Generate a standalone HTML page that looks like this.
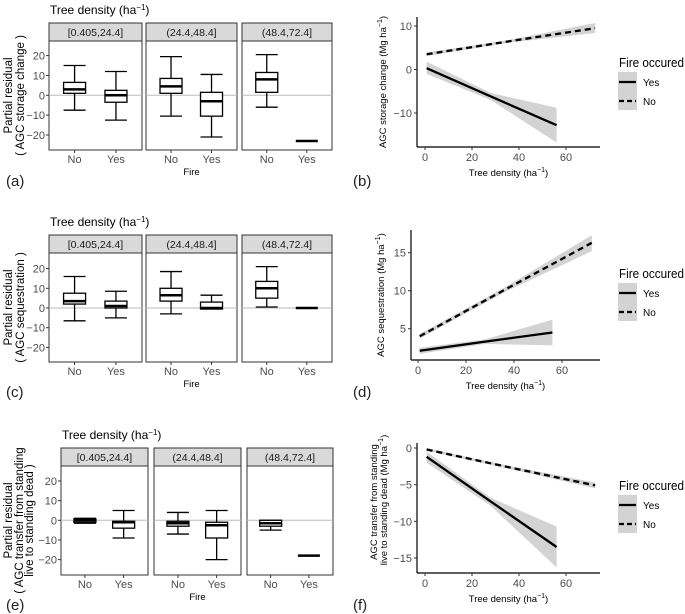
<!DOCTYPE html>
<html><head><meta charset="utf-8">
<style>
html,body{margin:0;padding:0;background:#fff;}
svg{display:block;font-family:"Liberation Sans",Arial,sans-serif;}
</style></head>
<body>
<svg id="fig" width="685" height="614" viewBox="0 0 685 614" xmlns="http://www.w3.org/2000/svg"></svg>
<script>
// ---------- Boxplot data (order: P1 No, P1 Yes, P2 No, P2 Yes, P3 No, P3 Yes) ----------
const binLabels = ["[0.405,24.4]", "(24.4,48.4]", "(48.4,72.4]"];
const fireLevels = ["No", "Yes"];
const yTicksBox = [20, 10, 0, -10, -20];

const aLo  = [-7.5, -12.5, -10.5, -21, -6, -23];
const aQ1  = [1, -3.5, 1, -10.5, 1.5, -23];
const aMed = [3, 0, 4.5, -3, 8, -23];
const aQ3  = [6.5, 2.5, 8.5, 1.5, 11.5, -23];
const aHi  = [15, 12, 19.5, 10.5, 20.5, -23];

const cLo  = [-6.5, -5, -3, -0.5, 0.5, 0];
const cQ1  = [2, 0, 3.5, -0.5, 5, 0];
const cMed = [3.5, 1, 6.5, 0, 10, 0];
const cQ3  = [7.5, 3.5, 10, 3, 13.5, 0];
const cHi  = [16, 8.5, 18.5, 6.5, 21, 0];

const eLo  = [-1.5, -9, -7, -20, -5, -18];
const eQ1  = [-1, -4, -3, -9, -3, -18];
const eMed = [0, -1, -1.5, -2.5, -1.5, -18];
const eQ3  = [0.7, -0.5, -0.5, -1, 0, -18];
const eHi  = [1, 5, 4, 5, 0, -18];

// ---------- Regression line data ----------
const xTicksLine = [0, 20, 40, 60];
const yesX = [0.7, 28, 56];
const noX  = [0.7, 36, 72.4];

const bYes = [0.3, -6.2, -12.8], bYesLo = [-1, -7, -16.8], bYesHi = [1.8, -5.4, -8.8];
const bNo  = [3.5, 6.5, 9.5],    bNoLo  = [3.1, 6.2, 8.4],   bNoHi  = [3.9, 6.8, 10.7];
const bTicks = [10, 0, -10];

const dYes = [2.1, 3.3, 4.5], dYesLo = [1.7, 3.0, 2.8], dYesHi = [2.5, 3.6, 6.2];
const dNo  = [4.0, 10.1, 16.3], dNoLo = [3.7, 9.8, 15.2], dNoHi = [4.3, 10.4, 17.3];
const dTicks = [15, 10, 5];

const fYes = [-1.2, -7.3, -13.5], fYesLo = [-2.0, -7.9, -16.3], fYesHi = [-0.5, -6.8, -10.7];
const fNo  = [-0.2, -2.65, -5.1], fNoLo = [-0.4, -2.85, -5.5], fNoHi = [0, -2.45, -4.7];
const fTicks = [0, -5, -10, -15];

const NS = "http://www.w3.org/2000/svg";
const svg = document.getElementById("fig");
function mk(tag, attrs, parent, text) {
  const e = document.createElementNS(NS, tag);
  for (const k in attrs) e.setAttribute(k, attrs[k]);
  if (text !== undefined) e.textContent = text;
  (parent || svg).appendChild(e);
  return e;
}
function tx(x, y, s, size, opts) {
  const o = Object.assign({x: x, y: y, "font-size": size, fill: "#000"}, opts || {});
  return mk("text", o, svg, s);
}
function densityTitle(x, y) {
  const t = mk("text", {x: x, y: y, "font-size": 12, fill: "#000"});
  
  
  mk("tspan", {}, t, "Tree density (ha");
  mk("tspan", {dy: -4, "font-size": 8}, t, "\u22121");
  mk("tspan", {dy: 4}, t, ")");
}

// ---------- Boxplot rows ----------
function boxRow(cfg) {
  const {panels, stripTop, stripBot, plotBot, zeroY, pxPerUnit, lo, q1, med, q3, hi, tickRight, showFire, label, labelY, ylabLines, ylabX, titleX} = cfg;
  const ys = v => zeroY - v * pxPerUnit;
  densityTitle(titleX, stripTop - 9);
  yTicksBox.forEach(v => {
    const t = tx(tickRight - 4, ys(v) + 4, (v < 0 ? "\u2212" + (-v) : String(v)), 11, {"text-anchor": "end", fill: "#4d4d4d"});
    
    
    mk("line", {x1: tickRight - 3, x2: tickRight, y1: ys(v), y2: ys(v), stroke: "#333", "stroke-width": 1});
  });
  panels.forEach((p, i) => {
    const [x0, x1] = p;
    const strip = mk("rect", {x: x0, y: stripTop, width: x1 - x0, height: stripBot - stripTop, fill: "#d9d9d9", stroke: "#333", "stroke-width": 1});
    
    
    const st = tx((x0 + x1) / 2, stripTop + 13, binLabels[i], 10.5, {"text-anchor": "middle", fill: "#1a1a1a"});
    
    
    const frame = mk("rect", {x: x0, y: stripBot, width: x1 - x0, height: plotBot - stripBot, fill: "#fff", stroke: "#333", "stroke-width": 1});
    
    
    mk("line", {x1: x0, x2: x1, y1: ys(0), y2: ys(0), stroke: "#bbb", "stroke-width": 1});
    const w = x1 - x0;
    fireLevels.forEach((f, j) => {
      const k = i * 2 + j;
      const cx = x0 + w * (j === 0 ? 0.275 : 0.72);
      const bw = 22;
      const g = mk("g", {});
      
      
      if (hi[k] - lo[k] < 0.01) {
        mk("line", {x1: cx - bw / 2, x2: cx + bw / 2, y1: ys(med[k]), y2: ys(med[k]), stroke: "#000", "stroke-width": 2.5}, g);
      } else {
        mk("line", {x1: cx, x2: cx, y1: ys(hi[k]), y2: ys(q3[k]), stroke: "#000", "stroke-width": 1.3}, g);
        mk("line", {x1: cx, x2: cx, y1: ys(q1[k]), y2: ys(lo[k]), stroke: "#000", "stroke-width": 1.3}, g);
        mk("line", {x1: cx - bw / 2, x2: cx + bw / 2, y1: ys(hi[k]), y2: ys(hi[k]), stroke: "#000", "stroke-width": 1.3}, g);
        mk("line", {x1: cx - bw / 2, x2: cx + bw / 2, y1: ys(lo[k]), y2: ys(lo[k]), stroke: "#000", "stroke-width": 1.3}, g);
        mk("rect", {x: cx - bw / 2, y: ys(q3[k]), width: bw, height: Math.max(ys(q1[k]) - ys(q3[k]), 0.5), fill: "#fff", stroke: "#000", "stroke-width": 1.3}, g);
        mk("line", {x1: cx - bw / 2, x2: cx + bw / 2, y1: ys(med[k]), y2: ys(med[k]), stroke: "#000", "stroke-width": 2.5}, g);
      }
      mk("line", {x1: cx, x2: cx, y1: plotBot, y2: plotBot + 3, stroke: "#333"});
      const xl = tx(cx, plotBot + 13, f, 11, {"text-anchor": "middle", fill: "#4d4d4d"});
      
      
    });
  });
  if (showFire) {
    const ft = tx((panels[1][0] + panels[1][1]) / 2, plotBot + 25, "Fire", 9.5, {"text-anchor": "middle"});
    
    
  }
  const pl = tx(6, labelY, label, 15, {fill: "#222"});
  
  
  const cy = (stripBot + plotBot) / 2;
  ylabLines.forEach((s, i) => {
    const x = ylabX[i];
    const t = tx(x, cy, s, 11.5, {"text-anchor": "middle", transform: "rotate(-90 " + x + " " + cy + ")"});
    
    
  });
}

boxRow({panels: [[49, 142], [146, 237], [242, 332]], stripTop: 23, stripBot: 41, plotBot: 150, zeroY: 95.3, pxPerUnit: 1.985,
  lo: aLo, q1: aQ1, med: aMed, q3: aQ3, hi: aHi, tickRight: 49, showFire: true, label: "(a)", labelY: 186,
  ylabLines: ["Partial residual", "( AGC storage change )"], ylabX: [12, 24], titleX: 50});
boxRow({panels: [[49, 142], [146, 237], [242, 332]], stripTop: 235, stripBot: 253, plotBot: 362, zeroY: 308, pxPerUnit: 1.97,
  lo: cLo, q1: cQ1, med: cMed, q3: cQ3, hi: cHi, tickRight: 49, showFire: true, label: "(c)", labelY: 397,
  ylabLines: ["Partial residual", "( AGC sequestration )"], ylabX: [12, 24], titleX: 50});
boxRow({panels: [[61, 148], [154, 241], [247, 333]], stripTop: 448, stripBot: 466, plotBot: 575, zeroY: 520.3, pxPerUnit: 1.965,
  lo: eLo, q1: eQ1, med: eMed, q3: eQ3, hi: eHi, tickRight: 61, showFire: true, label: "(e)", labelY: 610,
  ylabLines: ["Partial residual", "( AGC transfer from standing", "live to standing dead )"], ylabX: [12, 23, 33], titleX: 62});

// ---------- Line panels ----------
function linePanel(cfg) {
  const {axL, axB, axT, axR, x0px, x60px, yRef, ticks, yes, yesLo, yesHi, no, noLo, noHi, label, labelY, legY} = cfg;
  const xs = v => x0px + v * (x60px - x0px) / 60;
  const ys = v => yRef[1] + (v - yRef[0]) * (yRef[3] - yRef[1]) / (yRef[2] - yRef[0]);
  function band(xArr, lo, hi, name) {
    let d = "M" + xArr.map((x, i) => xs(x) + "," + ys(hi[i])).join(" L");
    d += " L" + xArr.slice().reverse().map((x, i) => xs(x) + "," + ys(lo[lo.length - 1 - i])).join(" L") + " Z";
    const p = mk("path", {d: d, fill: "#d3d3d3"});
    
    
  }
  function line(xArr, yArr, dash, name) {
    const p = mk("polyline", {points: xArr.map((x, i) => xs(x) + "," + ys(yArr[i])).join(" "), fill: "none", stroke: "#000", "stroke-width": 2.3, "stroke-dasharray": dash});
    
    
  }
  band(noX, noLo, noHi, "ci-band-no");
  band(yesX, yesLo, yesHi, "ci-band-yes");
  line(noX, no, "6,4", "line-no-fire");
  line(yesX, yes, "none", "line-fire");
  mk("line", {x1: axL, x2: axL, y1: axT, y2: axB, stroke: "#000", "stroke-width": 1.2});
  mk("line", {x1: axL, x2: axR, y1: axB, y2: axB, stroke: "#000", "stroke-width": 1.2});
  ticks.forEach(v => {
    mk("line", {x1: axL - 3, x2: axL, y1: ys(v), y2: ys(v), stroke: "#333"});
    const t = tx(axL - 5, ys(v) + 4, v < 0 ? "\u2212" + (-v) : String(v), 11, {"text-anchor": "end", fill: "#4d4d4d"});
    
    
  });
  xTicksLine.forEach(v => {
    mk("line", {x1: xs(v), x2: xs(v), y1: axB, y2: axB + 3, stroke: "#333"});
    const t = tx(xs(v), axB + 14, String(v), 11, {"text-anchor": "middle", fill: "#4d4d4d"});
    
    
  });
  const xt = mk("text", {x: (axL + axR) / 2, y: axB + 29, "font-size": 9.5, "text-anchor": "middle"});
  
  
  mk("tspan", {}, xt, "Tree density (ha");
  mk("tspan", {dy: -4, "font-size": 7}, xt, "\u22121");
  mk("tspan", {dy: 4}, xt, ")");
  const pl = tx(353, labelY, label, 15, {fill: "#222"});
  
  
  // legend
  const lg = mk("g", {});
  
  
  mk("text", {x: 619, y: legY, "font-size": 12.5, textLength: 65, lengthAdjust: "spacingAndGlyphs"}, lg, "Fire occured");
  mk("rect", {x: 618, y: legY + 5, width: 19, height: 38, fill: "#d3d3d3"}, lg);
  const e1 = mk("g", {}, lg);
  
  
  mk("line", {x1: 619, x2: 636, y1: legY + 15, y2: legY + 15, stroke: "#000", "stroke-width": 2.3}, e1);
  mk("text", {x: 643, y: legY + 19, "font-size": 10}, e1, "Yes");
  const e2 = mk("g", {}, lg);
  
  
  mk("line", {x1: 619, x2: 636, y1: legY + 34, y2: legY + 34, stroke: "#000", "stroke-width": 2.3, "stroke-dasharray": "5,3"}, e2);
  mk("text", {x: 643, y: legY + 38, "font-size": 10}, e2, "No");
}

linePanel({axL: 417, axB: 147, axT: 17, axR: 600, x0px: 425, x60px: 566, yRef: [10, 26, -10, 113], ticks: bTicks,
  yes: bYes, yesLo: bYesLo, yesHi: bYesHi, no: bNo, noLo: bNoLo, noHi: bNoHi, label: "(b)", labelY: 186, legY: 67});
linePanel({axL: 411, axB: 360, axT: 230, axR: 600, x0px: 418, x60px: 562, yRef: [15, 252.7, 5, 328.7], ticks: dTicks,
  yes: dYes, yesLo: dYesLo, yesHi: dYesHi, no: dNo, noLo: dNoLo, noHi: dNoHi, label: "(d)", labelY: 397, legY: 278});
linePanel({axL: 417, axB: 573, axT: 443, axR: 600, x0px: 425, x60px: 566, yRef: [0, 448, -15, 558], ticks: fTicks,
  yes: fYes, yesLo: fYesLo, yesHi: fYesHi, no: fNo, noLo: fNoLo, noHi: fNoHi, label: "(f)", labelY: 610, legY: 490});

// right y titles
function rotText(x, y, parts, name) {
  const t = mk("text", {x: x, y: y, "font-size": 9.5, "text-anchor": "middle", transform: "rotate(-90 " + x + " " + y + ")"});
  
  
  parts.forEach(p => mk("tspan", p[1] || {}, t, p[0]));
}
rotText(386, 82, [["AGC  storage change (Mg ha"], ["\u22121", {dy: -4, "font-size": 7}], [")", {dy: 4}]], "y-axis-title");
rotText(384, 295, [["AGC  sequestration (Mg ha"], ["\u22121", {dy: -4, "font-size": 7}], [")", {dy: 4}]], "y-axis-title");
rotText(377, 502, [["AGC      transfer from standing                  "]], "y-axis-title");
rotText(387, 500, [["live to standing dead    (Mg ha"], ["\u22121", {dy: -4, "font-size": 7}], [")", {dy: 4}]], "y-axis-title");
</script>
</body></html>
